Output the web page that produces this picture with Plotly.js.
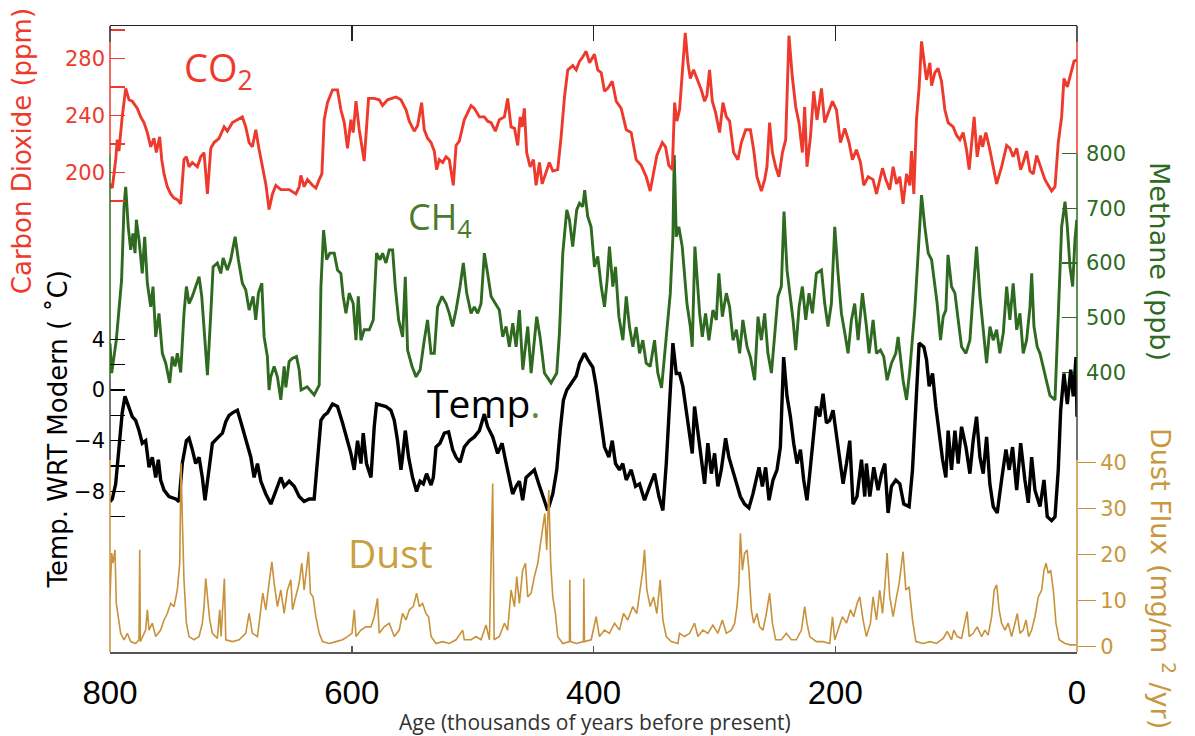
<!DOCTYPE html>
<html><head><meta charset="utf-8">
<script src="https://cdn.plot.ly/plotly-3.0.1.min.js"></script>
<style>html,body{margin:0;padding:0;background:#fff;}#chart{width:1195px;height:736px;}</style>
</head><body><div id="chart"></div>
<script>
// ---- CO2 (ppm) vs age (ky BP)
const co2Age=[800.0,798.1,795.3,794.0,792.6,789.9,787.0,784.3,781.6,777.4,774.6,771.9,769.1,766.3,763.6,761.7,758.9,757.2,755.3,752.6,749.8,747.0,744.3,741.5,738.8,736.8,734.6,731.9,727.7,724.9,722.2,719.4,716.6,713.9,709.8,705.6,702.9,698.7,694.6,690.5,687.7,684.9,682.2,679.4,676.6,673.9,671.1,668.4,665.6,662.8,658.7,651.8,646.2,643.5,642.1,639.4,636.6,632.5,629.7,626.9,624.7,622.8,620.1,615.9,611.8,609.0,606.2,603.5,600.7,598.8,596.5,593.8,589.7,586.1,581.4,577.3,574.5,570.4,563.4,559.3,555.1,552.4,548.3,545.5,542.2,540.0,537.3,534.4,531.7,529.8,527.6,524.8,522.0,519.3,516.0,513.7,511.0,506.9,501.3,498.6,494.4,490.3,487.6,484.7,481.2,477.9,473.7,471.0,468.2,465.4,462.7,460.7,459.1,457.2,455.3,452.4,449.7,447.5,444.7,442.5,439.2,436.5,433.7,429.6,426.8,424.0,421.3,417.2,414.3,411.6,408.9,406.1,403.3,399.2,396.5,393.6,390.9,388.2,384.5,381.2,377.1,372.9,368.8,364.7,360.5,356.4,353.1,350.3,347.6,343.1,340.4,337.7,334.8,332.9,331.0,328.8,326.6,324.1,321.9,319.9,317.2,314.5,310.8,308.1,306.2,304.0,301.7,299.0,295.7,292.9,290.1,287.4,284.1,280.5,277.7,274.1,270.2,267.5,264.8,261.1,258.4,256.5,254.3,252.0,249.3,246.6,243.7,241.0,238.3,235.5,232.7,230.0,227.2,225.3,223.4,220.5,217.8,215.1,211.4,208.7,206.0,202.3,199.0,195.7,192.1,188.6,185.8,182.5,179.1,176.4,172.8,168.7,165.9,160.9,158.2,154.9,152.1,149.3,146.6,143.9,141.0,138.3,136.9,135.0,132.8,130.6,128.6,126.5,124.5,121.7,120.3,117.6,114.9,112.1,109.3,106.6,102.4,99.6,96.9,94.2,91.4,89.2,85.1,82.6,79.8,78.1,75.4,72.6,69.3,66.5,62.4,58.2,55.5,52.8,49.9,46.6,44.5,41.7,38.9,36.2,33.4,30.1,26.5,23.8,21.0,18.2,15.5,12.7,10.8,8.0,5.2,2.5,0.2];
const co2Ppm=[192,189,209,223,215,239,259,251,250,245,239,235,228,218,224,214,225,209,199,190,185,182,181,178,209,211,204,207,204,211,214,185,217,221,224,232,229,235,237,239,232,221,218,230,216,204,192,174,185,191,188,188,185,190,198,190,195,191,189,195,199,237,249,258,258,244,235,217,237,228,250,230,208,252,252,251,247,251,253,251,244,236,229,233,249,230,224,221,215,202,209,207,211,209,191,219,222,237,247,245,239,239,236,235,229,237,239,252,232,231,219,239,232,245,214,204,209,191,207,192,201,207,201,202,225,253,272,275,272,278,281,285,277,283,272,270,257,259,264,250,245,230,228,209,205,197,187,199,212,221,218,205,202,249,236,244,270,298,277,266,272,266,258,250,254,272,250,242,228,249,239,236,214,209,221,230,230,216,197,187,195,204,235,214,204,197,214,223,296,267,246,235,214,246,204,225,257,237,259,235,242,250,244,221,231,221,209,216,207,191,197,195,185,203,195,188,204,192,197,178,199,191,215,185,237,260,292,279,265,277,261,270,273,264,244,235,232,226,223,228,216,202,239,211,226,218,228,218,204,192,204,219,217,211,217,202,207,215,201,199,212,204,195,191,187,190,221,239,266,260,270,278,279];

// ---- CH4 (ppb)
const ch4Age=[800,798.6,796.7,794.8,792.6,790.4,788.4,787.0,784.9,782.9,781.0,779.3,778.2,776.0,773.3,771.3,769.1,766.3,764.4,762.2,759.5,756.7,753.9,750.6,748.5,746.2,744.3,741.5,738.8,736.8,734.6,731.9,729.1,726.3,724.1,722.2,719.4,716.6,714.7,711.2,708.3,706.4,702.9,700.1,696.5,693.8,690.5,687.7,684.9,681.6,679.4,677.2,674.4,672.5,669.8,668.4,667.0,664.2,661.5,658.7,655.9,654.5,651.8,649.0,645.7,643.5,641.9,636.9,631.1,626.9,625.5,623.3,620.8,618.1,614.5,611.8,609.0,607.1,604.8,602.1,598.8,596.5,594.6,592.4,589.7,585.5,582.2,579.5,576.6,574.5,571.7,569.0,566.2,564.0,561.2,557.9,555.7,553.8,550.1,546.8,543.4,540.0,537.3,534.4,531.7,529.0,525.3,522.0,519.3,516.6,513.7,510.4,507.7,504.9,501.3,498.6,495.8,493.0,490.3,487.6,484.7,481.2,477.9,475.1,472.3,469.6,466.8,464.0,461.3,458.5,454.4,451.6,447.0,444.2,440.6,435.1,430.4,428.2,425.4,422.1,419.9,417.2,413.9,411.6,408.9,407.3,404.8,402.0,399.2,396.5,393.6,390.9,388.7,386.8,384.0,381.8,379.0,375.7,372.9,370.2,367.4,364.7,361.9,359.2,356.4,353.1,349.5,346.8,343.7,339.8,336.5,334.3,333.2,331.5,329.4,326.6,324.7,322.7,319.9,318.3,316.1,314.5,312.2,310.0,307.3,304.5,301.2,298.4,296.3,293.4,290.1,287.4,284.6,281.8,279.1,276.4,273.0,270.2,266.7,263.9,261.1,258.4,255.7,252.8,249.3,247.4,244.6,242.4,239.9,237.7,234.9,232.7,229.9,227.2,224.4,221.7,218.9,215.6,211.4,208.7,206.0,203.2,200.4,197.7,194.9,192.1,189.4,186.6,183.9,181.1,177.5,174.2,172.0,168.7,165.9,162.6,159.9,157.1,153.5,149.9,148.0,143.9,141.0,138.3,134.2,131.4,128.6,125.9,123.1,120.3,118.4,115.7,112.9,110.7,108.5,106.7,103.8,101.0,98.3,95.5,91.9,88.6,85.9,83.1,80.3,77.5,74.8,72.0,69.3,66.5,63.8,61.0,58.2,55.5,52.8,49.9,47.2,44.5,41.7,38.9,37.5,35.6,32.9,30.6,27.9,25.1,22.4,18.2,15.5,12.7,9.9,8.0,5.8,3.6,1.7,0.2];
const ch4Ppb=[453,399,429,459,514,569,703,739,666,624,654,618,679,642,581,648,563,520,557,465,508,435,417,381,429,411,435,400,508,557,526,539,557,575,539,472,395,508,593,600,581,609,587,606,648,606,563,551,514,539,496,545,563,465,429,368,392,411,392,350,411,373,420,426,429,405,368,374,359,377,557,660,606,618,618,587,581,539,508,545,526,459,539,459,478,478,496,618,606,618,600,624,624,557,496,465,575,441,411,392,405,459,496,435,435,520,539,526,508,484,514,557,600,545,508,520,508,526,618,581,539,526,514,465,484,447,490,447,514,405,484,399,502,465,399,381,399,471,618,697,679,630,697,709,703,733,685,666,593,612,557,520,569,630,557,593,502,459,539,483,447,483,435,459,417,411,459,399,372,465,544,648,797,648,666,630,581,526,484,447,630,581,508,465,508,459,514,496,581,502,545,520,459,478,435,496,447,428,386,502,459,508,435,399,496,539,557,694,587,545,496,441,520,557,496,545,508,581,587,526,484,526,666,581,508,472,435,496,526,459,545,484,435,496,435,441,429,386,417,435,465,386,350,405,514,618,724,666,618,606,569,526,459,502,514,615,557,545,496,447,435,459,545,630,539,472,417,484,459,478,435,472,557,496,563,478,508,435,459,520,581,484,447,435,411,386,358,350,496,666,712,666,593,557,642,679];

// ---- Temperature anomaly (deg C, relative to modern)
const tempAge=[800,798.1,795.3,792.6,789.9,787.6,784.3,781.6,778.8,776.0,773.3,770.5,767.7,765.0,762.2,760.0,758.1,755.3,751.2,745.6,742.9,740.2,736.8,734.6,731.9,729.1,726.3,723.6,721.4,718.1,715.3,711.2,707.0,704.2,701.5,698.7,694.6,691.8,689.1,686.3,683.5,680.8,678.0,675.2,671.1,666.9,662.8,658.7,655.9,651.8,647.6,643.5,639.4,635.2,631.1,628.4,625.5,622.8,620.1,615.9,611.8,607.6,603.5,600.7,598.0,595.2,592.4,590.5,587.8,584.1,581.4,579.5,575.8,571.7,567.6,564.8,562.1,559.3,558.0,555.7,553.0,549.7,546.4,543.5,540.8,538.1,534.4,532.5,530.3,527.0,523.4,519.9,516.5,513.7,510.4,506.9,502.7,498.6,494.4,490.3,487.6,483.4,479.3,475.6,472.9,469.6,466.9,464.0,461.3,458.6,455.8,452.4,448.9,445.3,442.0,437.9,433.7,430.4,427.6,424.9,422.1,418.5,414.3,411.6,407.5,404.7,400.6,397.8,394.5,390.9,387.3,384.5,381.8,378.5,375.8,372.9,368.8,365.2,361.9,357.8,353.6,349.5,345.9,342.6,339.8,337.1,334.3,331.5,328.8,326.1,323.2,320.5,318.3,316.4,313.6,310.8,308.1,305.4,302.5,299.8,297.1,294.3,290.7,288.0,284.7,281.8,278.5,275.0,271.4,268.1,265.3,263.1,260.3,257.6,254.8,251.5,248.2,245.4,242.7,239.9,237.1,234.4,231.6,228.8,226.1,223.4,221.1,218.4,215.6,212.8,210.1,207.3,204.6,201.8,199.0,196.3,193.5,190.7,188.0,185.3,182.0,178.3,175.6,174.2,171.4,168.1,164.6,161.7,159.0,156.3,153.5,149.9,146.6,143.3,138.9,136.1,133.3,130.6,126.7,124.5,122.3,119.5,116.8,114.0,111.2,108.5,106.6,103.8,101.0,98.3,95.5,91.9,88.6,85.9,83.1,80.3,77.6,74.8,72.1,69.3,66.0,62.4,58.8,56.1,53.3,49.9,46.6,43.1,40.3,37.5,34.8,30.6,27.3,24.6,21.0,18.2,15.5,13.5,10.8,8.0,5.2,3.1,0.8,0.0];
const tempC=[-8.8,-8.6,-7.4,-4.7,-1.8,-0.5,-1.5,-2.1,-2.4,-3.2,-4.2,-4.0,-6.1,-5.3,-6.9,-5.5,-7.1,-7.9,-8.4,-8.6,-8.8,-5.8,-4.0,-3.8,-4.7,-5.8,-5.3,-6.9,-8.7,-6.3,-4.2,-3.8,-3.4,-2.5,-2.0,-1.8,-1.6,-2.5,-3.4,-4.5,-5.3,-6.9,-5.8,-7.2,-8.2,-9.0,-8.0,-6.9,-7.6,-7.2,-7.6,-8.4,-8.8,-8.6,-8.6,-5.3,-2.4,-2.0,-1.8,-1.1,-1.3,-2.6,-4.0,-5.0,-6.3,-4.0,-5.8,-3.4,-5.8,-6.9,-2.9,-1.1,-1.2,-1.3,-1.6,-2.4,-4.0,-6.3,-5.3,-3.2,-5.3,-6.9,-8.0,-7.2,-7.4,-6.6,-7.5,-6.9,-4.5,-4.2,-3.4,-3.3,-4.7,-5.3,-5.7,-4.5,-4.0,-3.7,-3.2,-1.9,-2.9,-3.7,-5.0,-4.2,-5.5,-6.9,-8.2,-7.6,-7.2,-8.7,-6.9,-6.6,-6.3,-7.4,-8.4,-9.5,-8.2,-6.3,-3.2,-0.8,0.0,0.5,1.1,2.1,2.9,2.4,1.8,0.3,-1.8,-4.5,-5.3,-4.0,-5.8,-6.3,-5.8,-7.1,-6.3,-7.6,-7.4,-8.7,-7.6,-6.6,-8.4,-9.5,-5.8,-0.8,3.7,1.3,1.3,0.3,-1.6,-3.7,-5.0,-1.3,-3.4,-5.3,-7.4,-4.2,-6.6,-5.0,-7.6,-6.3,-3.8,-5.3,-6.3,-7.4,-8.4,-9.0,-9.3,-8.2,-6.9,-6.1,-7.6,-6.1,-8.7,-7.1,-6.3,-4.5,2.6,-0.5,-2.1,-4.2,-5.8,-4.7,-7.1,-8.7,-6.6,-3.7,-1.3,-2.1,-0.3,-2.6,-2.4,-1.6,-3.7,-5.3,-7.4,-5.8,-4.0,-9.0,-8.4,-5.5,-8.4,-5.8,-8.4,-6.1,-7.9,-6.6,-5.8,-9.7,-7.6,-7.1,-7.4,-9.0,-9.2,-6.3,-0.5,3.7,3.4,2.4,0.3,1.3,-1.3,-3.7,-5.5,-6.9,-3.2,-6.3,-3.2,-5.8,-2.9,-4.5,-6.6,-4.0,-2.1,-5.3,-6.6,-3.7,-7.4,-9.2,-9.7,-7.1,-4.7,-6.3,-4.5,-7.9,-4.2,-7.1,-8.9,-5.3,-7.9,-9.2,-7.1,-10.0,-10.3,-10.0,-6.3,-1.6,1.3,-1.1,1.6,-0.5,2.6,-2.1];

// ---- Dust flux (mg/m^2/yr)
const dustAge=[800,798.6,797.5,795.9,794.8,793.1,791.2,788.4,785.7,782.9,778.8,776.0,775.4,774.9,770.5,769.1,767.7,765.0,762.2,758.1,755.3,752.6,749.8,747.0,744.3,742.3,741.2,740.2,738.8,736.8,734.6,730.5,726.3,723.6,722.2,720.8,719.4,717.5,715.3,711.2,709.2,708.1,705.4,704.2,698.7,693.2,687.7,684.9,682.2,678.0,673.6,671.1,668.4,666.1,664.2,661.5,658.7,655.9,653.2,650.4,649.0,646.2,643.5,641.3,639.4,637.5,635.8,634.2,632.0,629.7,626.9,624.2,618.6,613.1,607.6,603.5,599.8,597.9,596.5,592.4,588.3,584.1,581.4,578.7,577.3,573.2,569.0,564.8,560.7,558.0,555.1,552.4,549.1,546.4,544.1,541.4,538.6,536.4,534.4,530.3,524.8,519.3,513.7,508.2,506.9,501.3,497.2,493.0,488.9,486.1,483.4,482.2,477.9,473.7,471.0,468.2,465.4,463.5,461.3,458.6,456.3,454.4,451.6,448.9,446.1,444.2,442.0,440.3,438.7,437.0,435.4,433.7,431.5,429.6,425.4,419.9,419.6,419.1,414.3,408.3,408.0,407.5,401.9,397.8,395.1,390.9,386.8,382.6,378.5,375.2,371.7,367.5,364.2,361.3,359.2,357.8,355.9,353.1,350.3,347.6,344.8,342.6,339.8,335.7,330.2,328.8,324.7,320.5,316.4,313.6,309.5,305.4,301.2,297.1,293.4,290.1,286.0,283.2,281.3,279.7,278.5,276.8,275.0,273.0,271.4,269.4,267.5,264.8,262.5,259.8,257.0,254.3,252.0,249.3,244.6,240.5,236.3,232.2,228.0,225.3,223.4,221.1,215.6,210.1,204.6,202.3,200.4,197.7,194.1,190.7,187.4,184.7,181.9,179.7,177.0,174.2,170.9,168.7,165.9,163.2,160.9,159.0,157.1,154.9,152.1,149.3,147.1,145.1,143.9,141.6,138.9,136.1,133.3,127.3,121.7,116.2,110.7,107.4,103.8,101.9,99.1,95.5,90.9,89.2,85.9,82.6,78.9,76.2,73.5,70.6,68.5,66.5,64.4,62.4,59.6,56.9,54.1,51.3,49.4,47.2,44.5,42.2,40.0,37.5,34.8,32.0,29.2,27.3,25.6,23.8,21.8,19.6,17.4,14.7,9.9,5.8,0.8];
const dustFlux=[10.8,20.3,18.1,21.0,9.4,5.8,2.9,1.5,2.9,1.1,0.7,1.5,21.0,1.1,3.6,8.0,3.6,5.1,2.2,3.6,5.8,7.2,9.4,8.7,12.3,18.1,39.8,28.2,14.5,5.1,2.2,1.5,2.2,5.1,8.7,14.8,10.8,5.8,2.9,1.8,8.0,2.2,14.8,1.5,1.1,1.5,2.9,7.2,2.9,2.2,11.6,8.0,13.8,18.4,13.8,8.7,12.3,7.2,12.3,14.5,8.0,10.8,13.8,18.1,12.3,16.6,20.6,11.6,10.8,6.5,2.9,1.1,0.7,1.1,1.5,2.2,2.9,8.0,2.2,3.6,4.3,4.3,6.5,10.5,2.9,4.3,5.1,2.2,3.6,7.2,5.8,8.0,8.7,11.6,8.7,9.4,7.2,6.5,2.2,0.7,1.1,0.7,1.5,3.6,1.5,1.5,2.2,1.5,4.7,1.5,35.4,1.5,2.2,5.1,3.6,12.3,8.7,15.2,9.4,16.6,18.1,10.8,11.6,15.2,18.1,21.7,25.3,28.9,21.0,34.0,18.1,10.8,7.2,2.2,0.7,1.1,14.5,1.1,0.7,1.1,14.8,1.1,1.5,6.5,2.2,3.6,2.9,5.1,3.6,7.2,5.8,8.7,7.2,12.3,16.6,21.0,12.3,8.7,10.8,7.2,14.5,5.8,2.2,1.1,0.7,2.9,2.2,2.9,5.1,2.2,3.6,2.9,4.7,2.9,5.8,2.9,3.6,5.1,8.7,13.8,24.6,16.6,20.3,21.0,16.6,8.0,5.1,7.2,4.3,3.6,7.2,11.6,5.1,1.5,1.5,2.9,1.5,1.5,3.6,8.7,5.1,2.2,1.1,1.1,0.7,6.5,1.5,3.6,6.5,5.1,8.0,6.5,9.4,10.8,5.8,2.2,5.1,10.8,5.8,12.3,7.2,13.0,20.3,10.8,6.5,10.8,13.8,18.1,20.6,12.3,13.0,5.8,1.1,0.7,1.1,0.7,1.8,3.3,1.5,3.6,2.2,1.8,7.6,2.2,2.9,4.3,2.2,3.6,2.5,6.5,12.3,13.4,8.0,5.1,3.6,5.1,2.2,5.1,7.2,2.9,3.6,5.8,2.2,3.6,6.5,10.8,12.3,16.6,18.1,15.9,16.6,12.3,5.1,1.5,0.7,0.4,0.4];

// ---- Tick values / labels
const ageTicks=[800,600,400,200,0];
const ageTickText=['800','600','400','200','0'];
const co2Ticks=[200,240,280];
const co2MinorTicks=[180,220,260,300];
const ch4Ticks=[400,500,600,700,800];
const tempTicks=[-8,-4,0,4];
const tempMinorTicks=[-10,-6,-2,2];
const dustTicks=[0,10,20,30,40];

const RED='#ee3a2c', GREEN='#2e6a1f', GOLD='#c8913a', DUSTTXT='#c9973d';

const traces=[
  {x:dustAge,y:dustFlux,xaxis:'x',yaxis:'y4',mode:'lines',line:{color:GOLD,width:1.6},hoverinfo:'skip'},
  {x:tempAge,y:tempC,xaxis:'x',yaxis:'y3',mode:'lines',line:{color:'#000',width:3.4},hoverinfo:'skip'},
  {x:ch4Age,y:ch4Ppb,xaxis:'x',yaxis:'y2',mode:'lines',line:{color:GREEN,width:2.9},hoverinfo:'skip'},
  {x:co2Age,y:co2Ppm,xaxis:'x2',yaxis:'y',mode:'lines',line:{color:RED,width:2.9},hoverinfo:'skip'}
];

const base={showgrid:false,zeroline:false,showline:false,anchor:'x'};
function seg(x,y0,y1,c){return {type:'line',xref:'paper',yref:'paper',x0:x,x1:x,y0:y0,y1:y1,line:{color:c,width:1.5}};}
const shapes=[];
[0,1].forEach(x=>{
  shapes.push(seg(x,0.9744,1,'#222'));
  shapes.push(seg(x,0.7955,0.9744,RED));
  shapes.push(seg(x,0.4377,0.7955,GREEN));
  shapes.push(seg(x,0.3067,0.4377,'#444'));
  shapes.push(seg(x,0,0.3067,GOLD));
});

const tf='DejaVu Sans, sans-serif';
function ann(text,x,y,size,color,extra){
  return Object.assign({text:text,xref:'paper',yref:'paper',x:x,y:y,xanchor:'center',yanchor:'middle',showarrow:false,
    font:{family:'Open Sans, sans-serif',size:size,color:color}},extra||{});
}
const layout={
  width:1195,height:736,margin:{l:110,r:118,t:26,b:84},
  paper_bgcolor:'#fff',plot_bgcolor:'rgba(0,0,0,0)',showlegend:false,
  font:{family:tf},
  xaxis:{range:[800,0],domain:[0,1],tickvals:ageTicks,ticktext:ageTickText,ticks:'inside',ticklen:6,tickwidth:1.5,tickcolor:'#555',
    showline:true,linecolor:'#555',linewidth:2,showgrid:false,zeroline:false,
    tickfont:{family:'Liberation Sans, Arial, sans-serif',size:33,color:'#000'},ticklabelstandoff:10},
  xaxis2:{range:[800,0],overlaying:'x',side:'top',anchor:'y',tickvals:[600,400,200],ticks:'inside',ticklen:15,tickwidth:1.5,tickcolor:'#222',
    showticklabels:false,showline:true,linecolor:'#222',linewidth:1.5,showgrid:false,zeroline:false},
  yaxis:Object.assign({},base,{side:'left',range:[-136.5,302.8],tickvals:co2Ticks,ticks:'inside',ticklen:15,tickwidth:1.2,tickcolor:RED,
    minor:{tickvals:co2MinorTicks,ticks:'inside',ticklen:15,tickwidth:1.2,tickcolor:RED},
    tickfont:{family:tf,size:21,color:RED},ticklabelstandoff:4}),
  yaxis2:Object.assign({},base,{overlaying:'y',side:'right',range:[-110.5,1032.9],tickvals:ch4Ticks,ticks:'inside',ticklen:15,tickwidth:1.2,tickcolor:GREEN,
    tickfont:{family:tf,size:21,color:GREEN},ticklabelstandoff:8}),
  yaxis3:Object.assign({},base,{overlaying:'y',side:'left',range:[-20.67,28.72],tickvals:tempTicks,ticks:'inside',ticklen:15,tickwidth:1.2,tickcolor:'#000',
    minor:{tickvals:tempMinorTicks,ticks:'inside',ticklen:15,tickwidth:1.2,tickcolor:'#000'},
    tickfont:{family:tf,size:21,color:'#000'},ticklabelstandoff:4}),
  yaxis4:Object.assign({},base,{overlaying:'y',side:'right',range:[-1.15,134.6],tickvals:dustTicks,ticks:'outside',ticklen:18,tickwidth:1.2,tickcolor:GOLD,
    tickfont:{family:tf,size:21,color:DUSTTXT}}),
  shapes:shapes,
  annotations:[
    ann('CO<sub>2</sub>',0.1117,0.93,38,RED),
    ann('CH<sub>4</sub>',0.341,0.693,36,'#4b7a2c'),
    ann('Temp<span style="color:#5a8a3a">.</span>',0.387,0.399,39,'#000'),
    ann('Dust',0.2896,0.1597,39,'#c9a042'),
    ann('Carbon Dioxide (ppm)',-0.091,0.80,26,RED,{textangle:-90,font:{family:tf,size:26,color:RED}}),
    ann('Temp. WRT Modern ( \u02DAC)',-0.054,0.355,26,'#000',{textangle:-90,font:{family:tf,size:26,color:'#000'}}),
    ann('Methane (ppb)',1.0858,0.623,27,GREEN,{textangle:90,font:{family:tf,size:27,color:GREEN}}),
    ann('Dust Flux (mg/m <sup>2</sup> /yr)',1.089,0.118,27,DUSTTXT,{textangle:90,font:{family:tf,size:27,color:DUSTTXT}}),
    ann('Age (thousands of years before present)',0.5015,-0.1118,21,'#333')
  ]
};
Plotly.newPlot('chart',traces,layout,{displayModeBar:false,staticPlot:true});
</script>
</body></html>
